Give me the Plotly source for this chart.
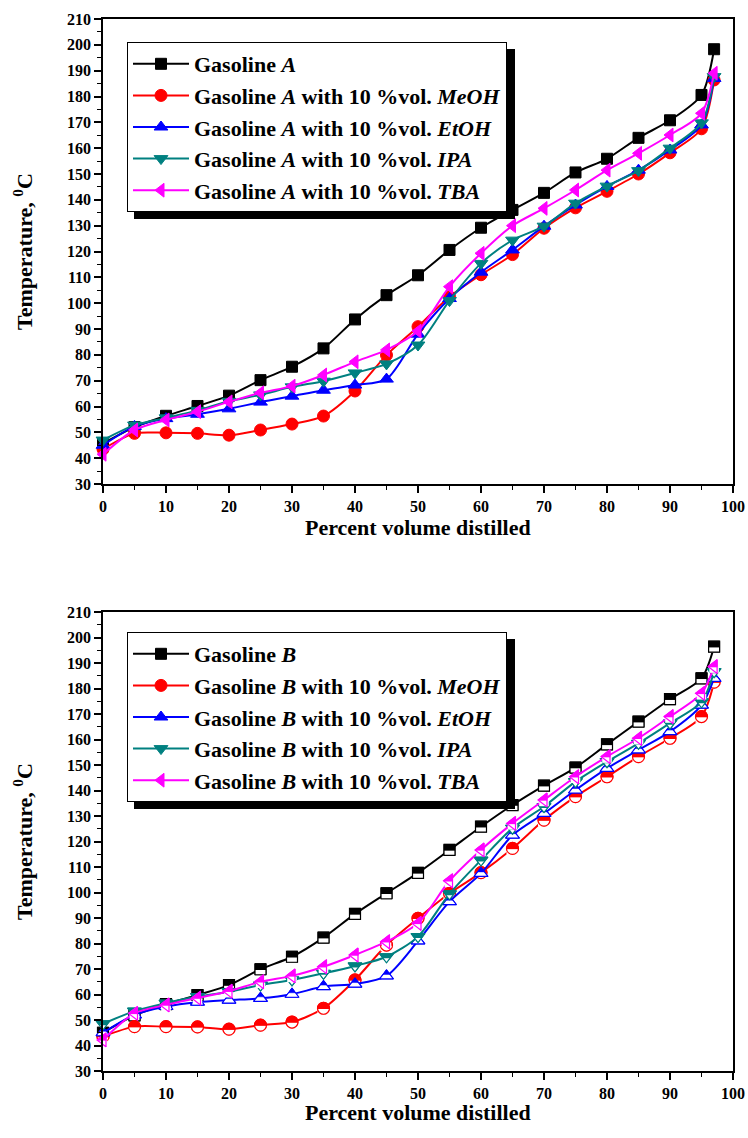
import plotly.graph_objects as go

# ---------------- data ----------------
x_pct = [0, 5, 10, 15, 20, 25, 30, 35, 40, 45, 50, 55, 60, 65, 70, 75, 80, 85, 90, 95, 97]

a_base = [45.7, 52.0, 56.4, 60.2, 64.2, 70.2, 75.4, 82.5, 93.7, 103.1, 110.8, 120.6, 129.2, 136.1, 142.7, 150.6, 155.9, 164.0, 170.8, 180.6, 198.3]
a_meoh = [43.5, 49.6, 49.8, 49.6, 48.9, 50.9, 53.2, 56.3, 66.0, 79.9, 90.9, 102.5, 111.0, 118.8, 129.0, 136.9, 143.3, 150.0, 158.2, 167.5, 186.4]
a_etoh = [45.0, 52.3, 55.3, 57.0, 59.1, 61.7, 64.0, 66.3, 68.3, 70.6, 88.0, 101.8, 112.0, 120.6, 129.8, 138.0, 145.2, 151.5, 159.3, 169.0, 187.0]
a_ipa = [47.0, 52.8, 55.6, 58.5, 62.0, 64.5, 67.6, 69.8, 73.0, 76.5, 83.8, 101.0, 115.4, 124.4, 129.8, 138.7, 145.3, 151.3, 160.0, 169.8, 187.7]
a_tba = [41.5, 50.9, 54.8, 58.0, 61.8, 65.3, 67.9, 72.2, 77.3, 81.9, 89.2, 106.4, 119.3, 130.0, 136.7, 143.8, 151.5, 158.0, 165.1, 173.5, 189.0]

b_base = [45.0, 51.8, 56.2, 59.8, 63.7, 69.9, 74.8, 82.3, 91.6, 99.7, 107.7, 116.7, 125.8, 134.3, 141.9, 149.0, 158.1, 167.0, 175.8, 184.0, 196.4]
b_meoh = [43.5, 47.4, 47.4, 47.3, 46.4, 48.0, 49.2, 54.6, 65.7, 79.4, 89.9, 99.7, 107.8, 117.3, 128.4, 137.6, 145.4, 153.3, 160.5, 169.0, 182.5]
b_etoh = [45.0, 52.0, 55.3, 57.0, 57.8, 58.5, 60.1, 63.1, 64.1, 67.3, 81.0, 96.4, 107.5, 122.5, 131.0, 140.2, 148.7, 155.9, 163.1, 173.5, 184.0]
b_ipa = [48.5, 53.5, 56.6, 59.2, 61.1, 63.7, 65.7, 68.3, 71.2, 74.8, 82.7, 99.5, 112.7, 125.2, 133.7, 143.5, 151.3, 158.5, 166.4, 174.8, 186.6]
b_tba = [42.2, 52.6, 55.9, 58.6, 61.3, 65.0, 67.3, 70.9, 75.5, 80.7, 87.9, 104.6, 116.7, 127.1, 136.3, 145.4, 153.3, 160.5, 169.0, 178.1, 188.6]

labels_additive = ["", "MeOH", "EtOH", "IPA", "TBA"]
colors = ["#000000", "#FF0000", "#0000FF", "#008080", "#FF00FF"]
symbols = ["square", "circle", "triangle-up", "triangle-down", "triangle-left"]
sizes = [11, 12, 12, 12, 12]

x_ticks = list(range(0, 101, 10))
y_ticks = list(range(30, 211, 10))
x_title = "Percent volume distilled"
y_title = "Temperature, <sup>0</sup>C"

# ---------------- layout geometry ----------------
W, H = 748, 1138
PL, PR, PT, PB = 103, 15, 19, 67
plot_h = H - PT - PB
TOP_BOTTOM_PX = 484
BOT_TOP_PX = 612


def py(p):
    return (H - PB - p) / plot_h


def px(p):
    return (p - PL) / (W - PL - PR)


FONT = "Liberation Serif"

fig = go.Figure()


def name_for(letter, add):
    if not add:
        return "Gasoline <i>%s</i>" % letter
    return "Gasoline <i>%s</i> with 10 %%vol. <i>%s</i>" % (letter, add)


series_a = [a_base, a_meoh, a_etoh, a_ipa, a_tba]
series_b = [b_base, b_meoh, b_etoh, b_ipa, b_tba]

for i, ys in enumerate(series_a):
    fig.add_trace(go.Scatter(
        x=x_pct, y=ys, mode="lines+markers", name=name_for("A", labels_additive[i]),
        line=dict(color=colors[i], width=2, shape="spline", smoothing=0.8),
        marker=dict(symbol=symbols[i], size=sizes[i], color=colors[i],
                    line=dict(color=colors[i], width=1)),
        xaxis="x", yaxis="y", legend="legend", cliponaxis=False,
    ))

# bottom chart: half-filled markers (top half coloured, bottom half white)
for i, ys in enumerate(series_b):
    c = colors[i]
    s = sizes[i]
    r = s / 2.0
    sym = symbols[i]
    fig.add_trace(go.Scatter(
        x=x_pct, y=ys, mode="lines+markers", name=name_for("B", labels_additive[i]),
        line=dict(color=c, width=2, shape="spline", smoothing=0.8),
        marker=dict(symbol=sym, size=s, color=c, line=dict(color=c, width=1)),
        xaxis="x2", yaxis="y2", legend="legend2", cliponaxis=False,
    ))
    common = dict(x=x_pct, y=ys, mode="markers", xaxis="x2", yaxis="y2",
                  showlegend=False, hoverinfo="skip", cliponaxis=False)
    if sym in ("square", "circle", "triangle-left"):
        half_len = r if sym != "triangle-left" else 0.8 * r
        fig.add_trace(go.Scatter(**common, marker=dict(
            symbol="line-ew", size=2 * half_len / 1.4, color="white", angle=0,
            standoff=r / 2 + 0.5, line=dict(color="white", width=r - 0.5))))
    elif sym == "triangle-up":
        fig.add_trace(go.Scatter(**common, marker=dict(
            symbol="triangle-up", size=s, color="white", line=dict(color="white", width=0))))
        fig.add_trace(go.Scatter(**common, marker=dict(
            symbol="triangle-down", size=s / 2, color=c, angle=180, standoff=r / 2,
            line=dict(color=c, width=0.5))))
    elif sym == "triangle-down":
        fig.add_trace(go.Scatter(**common, marker=dict(
            symbol="triangle-down", size=s / 2, color="white", angle=0, standoff=r / 2,
            line=dict(color="white", width=0))))
    fig.add_trace(go.Scatter(**common, marker=dict(
        symbol=sym + "-open", size=s, color=c, line=dict(color=c, width=1.2))))

axis_common = dict(
    showline=True, linecolor="black", linewidth=1.5, mirror=True,
    ticks="outside", ticklen=7, tickwidth=1.5, tickcolor="black",
    showgrid=False, zeroline=False, automargin=False,
    tickfont=dict(family=FONT, size=16, color="black", weight="bold"),
    minor=dict(ticks="outside", ticklen=4, tickwidth=1.2, tickcolor="black", showgrid=False),
)

TITLE_FONT = dict(family=FONT, size=22, color="black", weight="bold")
yt = dict(text=y_title, font=TITLE_FONT, standoff=28)

LEG_FONT = dict(family=FONT, size=22, color="black", weight="bold")

# x-axis titles placed just under the tick labels
annotations = [
    dict(text=x_title, xref="paper", yref="paper", x=px(418), y=py(527),
         xanchor="center", yanchor="middle", showarrow=False, font=TITLE_FONT),
    dict(text=x_title, xref="paper", yref="paper", x=px(418), y=py(1112),
         xanchor="center", yanchor="middle", showarrow=False, font=TITLE_FONT),
]

# legend drop shadows (legend box ~ 127..508 x 42..212)
LEG_W, LEG_H, SH = 381, 170, 7
shapes = []
for top in (42, 632):
    shapes.append(dict(type="rect", xref="paper", yref="paper",
                       x0=px(127 + SH), x1=px(127 + LEG_W + SH),
                       y0=py(top + LEG_H + SH), y1=py(top + SH),
                       fillcolor="black", line=dict(width=0), layer="above"))

fig.update_layout(
    template="none",
    width=W, height=H,
    margin=dict(l=PL, r=PR, t=PT, b=PB, autoexpand=False),
    paper_bgcolor="white", plot_bgcolor="white",
    xaxis=dict(**axis_common, domain=[0, 1], anchor="y", range=[0, 100],
               tickvals=x_ticks, minor_dtick=5),
    yaxis=dict(**axis_common, domain=[py(TOP_BOTTOM_PX), 1], anchor="x", range=[30, 210],
               tickvals=y_ticks, minor_dtick=5, title=yt),
    xaxis2=dict(**axis_common, domain=[0, 1], anchor="y2", range=[0, 100],
                tickvals=x_ticks, minor_dtick=5),
    yaxis2=dict(**axis_common, domain=[0, py(BOT_TOP_PX)], anchor="x2", range=[30, 210],
                tickvals=y_ticks, minor_dtick=5, title=yt),
    legend=dict(x=px(127), y=py(42), xanchor="left", yanchor="top",
                bgcolor="white", bordercolor="black", borderwidth=1,
                font=LEG_FONT, itemwidth=56, tracegroupgap=0),
    legend2=dict(x=px(127), y=py(632), xanchor="left", yanchor="top",
                 bgcolor="white", bordercolor="black", borderwidth=1,
                 font=LEG_FONT, itemwidth=56, tracegroupgap=0),
    shapes=shapes,
    annotations=annotations,
    showlegend=True,
    hovermode="closest",
)

fig.write_html("out.html", config={"displayModeBar": False},
               post_script="document.body.style.margin='0px';")
